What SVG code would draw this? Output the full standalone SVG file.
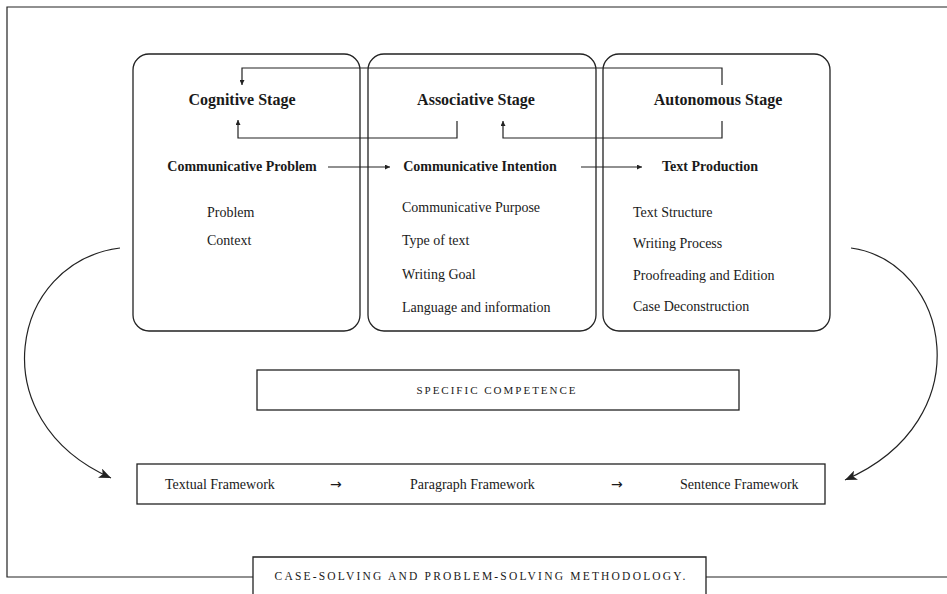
<svg xmlns="http://www.w3.org/2000/svg" width="947" height="594" viewBox="0 0 947 594">
<defs>
<style>
text{font-family:"Liberation Serif","DejaVu Serif",serif;fill:#1a1a1a}
.title{font-size:16px;font-weight:bold;text-anchor:middle}
.sub{font-size:14px;font-weight:bold;text-anchor:middle}
.item{font-size:14px}
.fw{font-size:14px}
.arr{font-family:"DejaVu Sans",sans-serif;font-size:14px}
.caps{font-size:11px;letter-spacing:2px;text-anchor:middle}
.caps2{font-size:11.5px;letter-spacing:2.2px;text-anchor:middle}
.box{fill:none;stroke:#222;stroke-width:1.3}
.line{fill:none;stroke:#222;stroke-width:1.2}
</style>
<marker id="sm" viewBox="0 0 8 8" refX="8" refY="4" markerWidth="5" markerHeight="5" markerUnits="userSpaceOnUse" orient="auto"><path d="M0,0 L8,4 L0,8 z" fill="#222"/></marker>
<marker id="big" viewBox="0 0 12 10" refX="12" refY="5" markerWidth="12" markerHeight="10" markerUnits="userSpaceOnUse" orient="auto"><path d="M0,0 L12,5 L0,10 L3,5 z" fill="#222"/></marker>
</defs>
<rect width="947" height="594" fill="#fff"/>
<g id="frame">
<path class="line" d="M947,7 L7,7 L7,577 L253,577 M706,577 L947,577" stroke-width="1.4"/>
</g>
<g id="cognitive">
<rect class="box" x="133" y="54" width="227" height="277" rx="16"/>
<text class="title" x="242" y="105">Cognitive Stage</text>
<text class="sub" x="242" y="171">Communicative Problem</text>
<text class="item" x="207" y="217">Problem</text>
<text class="item" x="207" y="245">Context</text>
</g>
<g id="associative">
<rect class="box" x="368" y="54" width="228" height="277" rx="16"/>
<text class="title" x="476" y="105">Associative Stage</text>
<text class="sub" x="480" y="171">Communicative Intention</text>
<text class="item" x="402" y="212">Communicative Purpose</text>
<text class="item" x="402" y="245">Type of text</text>
<text class="item" x="402" y="279">Writing Goal</text>
<text class="item" x="402" y="312">Language and information</text>
</g>
<g id="autonomous">
<rect class="box" x="603" y="54" width="227" height="277" rx="16"/>
<text class="title" x="718" y="105">Autonomous Stage</text>
<text class="sub" x="710" y="171">Text Production</text>
<text class="item" x="633" y="217">Text Structure</text>
<text class="item" x="633" y="248">Writing Process</text>
<text class="item" x="633" y="280">Proofreading and Edition</text>
<text class="item" x="633" y="311">Case Deconstruction</text>
</g>
<g id="competence">
<rect class="box" x="257" y="370" width="482" height="40"/>
<text class="caps" x="497" y="394">SPECIFIC COMPETENCE</text>
</g>
<g id="framework">
<rect class="box" x="137" y="464" width="688" height="40"/>
<text class="fw" x="165" y="489">Textual Framework</text>
<text class="arr" x="330" y="489">→</text>
<text class="fw" x="410" y="489">Paragraph Framework</text>
<text class="arr" x="611" y="489">→</text>
<text class="fw" x="680" y="489">Sentence Framework</text>
</g>
<g id="methodology">
<path class="box" d="M253,594 L253,557 L706,557 L706,594"/>
<text class="caps2" x="481" y="580">CASE-SOLVING AND PROBLEM-SOLVING METHODOLOGY.</text>
</g>
<g id="connectors">
<path class="line" d="M722,85 L722,68 L242,68 L242,85" marker-end="url(#sm)"/>
<path class="line" d="M457,121 L457,138 L238,138 L238,120" marker-end="url(#sm)"/>
<path class="line" d="M722,121 L722,138 L503,138 L503,121" marker-end="url(#sm)"/>
<path class="line" d="M328,167 L390,167" marker-end="url(#sm)"/>
<path class="line" d="M581,167 L642,167" marker-end="url(#sm)"/>
<path class="line" d="M120,248 C10,262 -20,420 111,478" marker-end="url(#big)"/>
<path class="line" d="M851,248 C950,262 983,420 845,480" marker-end="url(#big)"/>
</g>
</svg>
